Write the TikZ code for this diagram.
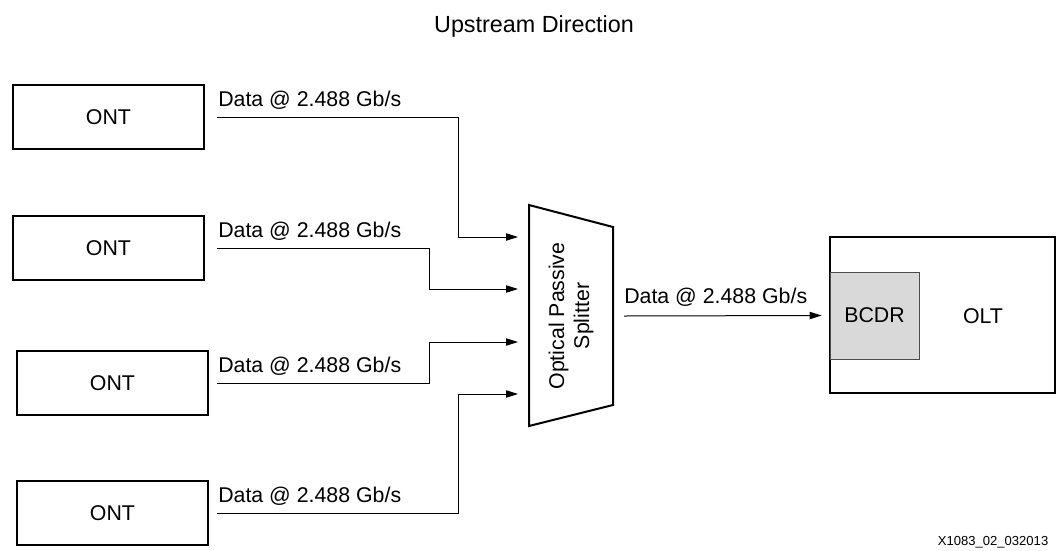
\documentclass[tikz,border=0pt]{standalone}
\usepackage{fontspec}
\setmainfont{Liberation Sans}
\usetikzlibrary{arrows.meta}
\definecolor{cdrgray}{HTML}{D9D9D9}

\begin{document}
\begin{tikzpicture}[x=0.75pt,y=-0.75pt,
    unit/.style={draw,line width=1.5pt,minimum width=143.25pt,minimum height=48pt,inner sep=0pt,font=\fontsize{16}{19}\selectfont},
    lbl/.style={anchor=base west,inner sep=0pt,font=\fontsize{16}{19}\selectfont},
    flow/.style={line width=0.75pt,-{Triangle[length=9pt,width=5.5pt]}}]
      \useasboundingbox (0,0) rectangle (1062,550);
      \node[anchor=base,font=\fontsize{17.5}{21}\selectfont] (title) at (534,32) {Upstream Direction};
      % ONT boxes
      \node[unit] (ont1) at (108.5,117) {ONT};
      \node[unit] (ont2) at (108.5,248) {ONT};
      \node[unit] (ont3) at (112.5,383) {ONT};
      \node[unit] (ont4) at (112.5,513) {ONT};
      % splitter
      \draw[line width=1.5pt] (529,205) -- (613,227) -- (613,405) -- (529,426) -- cycle;
      \node[rotate=90,align=center,font=\fontsize{16}{18.75}\selectfont] (split) at (571,316) {Optical Passive\\Splitter};
      \coordinate (in1) at (518,237);
      \coordinate (in2) at (518,289);
      \coordinate (in3) at (518,342);
      \coordinate (in4) at (518,394);
      \coordinate (sout) at (613,316);
      % OLT
      \node[draw,line width=1.5pt,minimum width=168.75pt,minimum height=117pt] (olt) at (942.5,315) {};
      \node[draw=black!70,line width=0.6pt,fill=cdrgray,minimum width=66.75pt,minimum height=65.25pt,font=\fontsize{16}{19}\selectfont] (bcdr) at (874.5,315.5) {BCDR};
      \node[font=\fontsize{16}{19}\selectfont] (oltname) at (983,316) {OLT};
      % links
      \draw[flow] ([xshift=9pt]ont1.east) -| ([xshift=-45pt]in1) -- (in1);
      \draw[flow] ([xshift=9pt]ont2.east) -| ([xshift=-66.75pt]in2) -- (in2);
      \draw[flow] ([xshift=6pt]ont3.east) -| ([xshift=-66.75pt]in3) -- (in3);
      \draw[flow] ([xshift=6pt]ont4.east) -| ([xshift=-45pt]in4) -- (in4);
      \draw[flow] ([xshift=8.25pt]sout) -- ([xshift=-6pt]bcdr.west);
      \node[lbl] (rate1) at ([xshift=9.75pt,yshift=8.25pt]ont1.east) {Data @ 2.488 Gb/s};
      \node[lbl] (rate2) at ([xshift=9.75pt,yshift=8.25pt]ont2.east) {Data @ 2.488 Gb/s};
      \node[lbl] (rate3) at ([xshift=6.75pt,yshift=8.25pt]ont3.east) {Data @ 2.488 Gb/s};
      \node[lbl] (rate4) at ([xshift=6.75pt,yshift=8.25pt]ont4.east) {Data @ 2.488 Gb/s};
      \node[lbl] (rate0) at ([xshift=8.25pt,yshift=9.75pt]sout) {Data @ 2.488 Gb/s};
      \node[anchor=base east,font=\fontsize{9.8}{12}\selectfont] (figid) at (1053,545) {X1083\_02\_032013};
\end{tikzpicture}
\end{document}
